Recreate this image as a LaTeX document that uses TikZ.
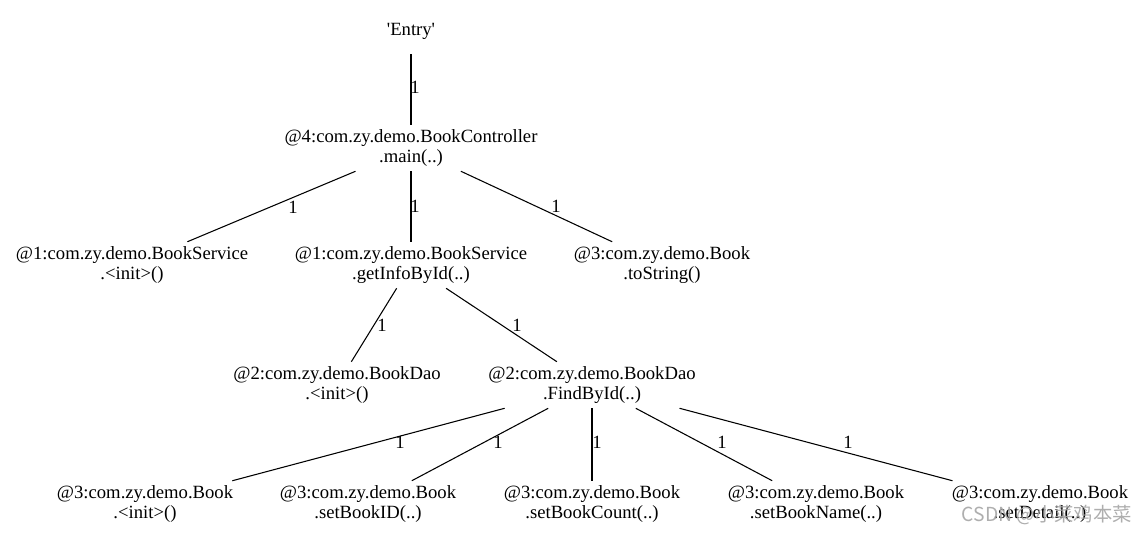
\documentclass[tikz,border=0pt]{standalone}
\usepackage{fontspec}
\newfontfamily\tfont{Liberation Serif}
\newfontfamily\cjkfont{Noto Sans CJK SC}
\begin{document}
\begin{tikzpicture}[x=0.75pt,y=-0.75pt,
  call/.style={rectangle,draw=none,inner xsep=8pt,inner ysep=0pt,minimum height=34.5pt,
    align=center,font=\tfont\fontsize{14}{15.5}\selectfont},
  lbl/.style={inner sep=0pt,font=\tfont\fontsize{14}{15}\selectfont},
  edge/.style={draw=black,line width=0.8pt}]
\useasboundingbox (0,0) rectangle (1146,533);
\fill[white] (0,0) rectangle (1146,533);
% nodes
\node[call] (entry) at (411,31) {'Entry'};
\node[call] (main) at (411,148) {@4:com.zy.demo.BookController\\.main(..)};
\node[call] (bsinit) at (132,265) {@1:com.zy.demo.BookService\\.<init>()};
\node[call] (info) at (411,265) {@1:com.zy.demo.BookService\\.getInfoById(..)};
\node[call] (tostr) at (662,265) {@3:com.zy.demo.Book\\.toString()};
\node[call] (dinit) at (337,385) {@2:com.zy.demo.BookDao\\.<init>()};
\node[call] (find) at (592,385) {@2:com.zy.demo.BookDao\\.FindById(..)};
\node[call] (binit) at (145,504) {@3:com.zy.demo.Book\\.<init>()};
\node[call] (bid) at (368,504) {@3:com.zy.demo.Book\\.setBookID(..)};
\node[call] (bcount) at (592,504) {@3:com.zy.demo.Book\\.setBookCount(..)};
\node[call] (bname) at (816,504) {@3:com.zy.demo.Book\\.setBookName(..)};
\node[call] (bdetail) at (1040,504) {@3:com.zy.demo.Book\\.setDetail(..)};
% edges
\draw[edge] (entry) -- (main);
\draw[edge] (main) -- (bsinit);
\draw[edge] (main) -- (info);
\draw[edge] (main) -- (tostr);
\draw[edge] (info) -- (dinit);
\draw[edge] (info) -- (find);
\draw[edge] (find) -- (binit);
\draw[edge] (find) -- (bid);
\draw[edge] (find) -- (bcount);
\draw[edge] (find) -- (bname);
\draw[edge] (find) -- (bdetail);
% edge labels
\node[lbl] (l1) at (415,87) {1};
\node[lbl] (l2) at (293,207) {1};
\node[lbl] (l3) at (415,206) {1};
\node[lbl] (l4) at (556,206) {1};
\node[lbl] (l5) at (382,325) {1};
\node[lbl] (l6) at (517,325) {1};
\node[lbl] (l7) at (400,442) {1};
\node[lbl] (l8) at (498,442) {1};
\node[lbl] (l9) at (597,442) {1};
\node[lbl] (l10) at (722,442) {1};
\node[lbl] (l11) at (848,442) {1};
% watermark
\node[anchor=east,inner sep=0pt,text=black!35,opacity=0.9,font=\cjkfont\fontsize{14.5}{14.5}\selectfont] (wm) at (1132,515) {CSDN @小菜鸡本菜};
\end{tikzpicture}
\end{document}
